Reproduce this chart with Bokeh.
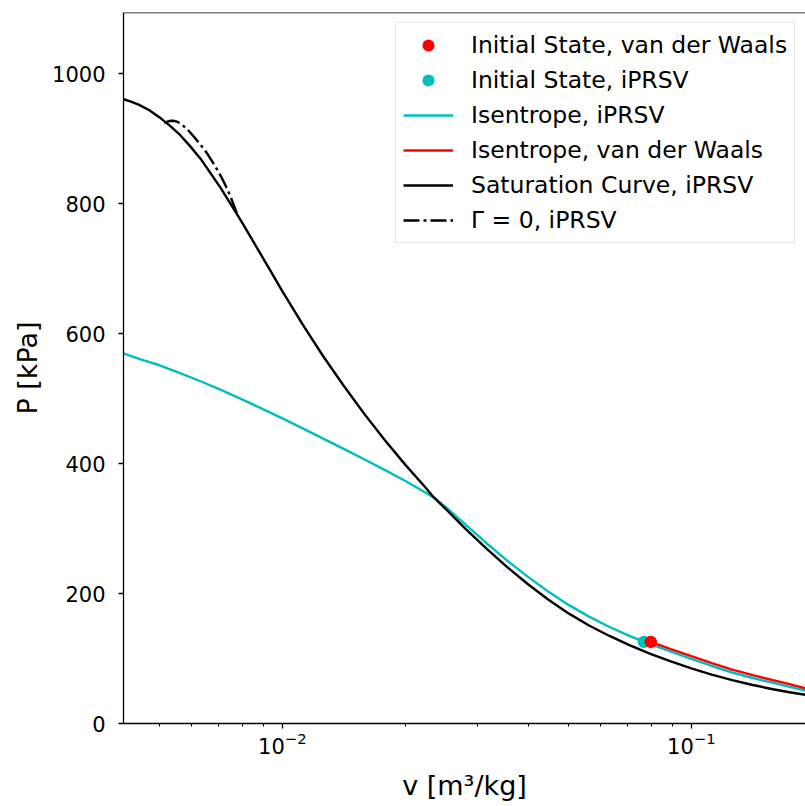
from bokeh.plotting import figure
from bokeh.models import Range1d, FixedTicker, Legend, LegendItem, Span
from bokeh.embed import file_html
from bokeh.resources import INLINE

# ---- data ----
X_MIN, X_MAX = 0.00409, 0.1902
Y_MAX = 1094.0
X_MAJOR = [0.01, 0.1]
X_MINOR = [0.005, 0.006, 0.007, 0.008, 0.009,
           0.02, 0.03, 0.04, 0.05, 0.06, 0.07, 0.08, 0.09]
Y_TICKS = [0, 200, 400, 600, 800, 1000]

# Saturation curve, iPRSV
sat_v = [0.003981, 0.004093, 0.004266, 0.004467, 0.004732, 0.005012, 0.005309,
         0.005623, 0.005957, 0.006310, 0.007079, 0.007943, 0.008913, 0.01,
         0.01122, 0.01259, 0.01413, 0.01585, 0.01778, 0.01995, 0.02239,
         0.0235, 0.02512, 0.02818, 0.03162, 0.03548, 0.03981, 0.04467,
         0.05012, 0.05623, 0.06310, 0.07079, 0.07943, 0.08913, 0.1,
         0.1122, 0.1259, 0.1413, 0.1585, 0.1738, 0.1995]
sat_P = [962.3, 960.5, 957.0, 951.9, 943.5, 932.6, 920.0,
         905.6, 888.0, 869.1, 823.3, 772.5, 719.2, 665.4,
         613.6, 565.1, 519.6, 476.8, 436.5, 398.7, 363.2,
         347.5, 329.7, 298.2, 268.7, 240.7, 214.7, 190.8,
         169.4, 150.8, 134.7, 120.3, 107.2, 95.5, 84.7,
         75.3, 66.7, 59.3, 52.7, 48.0, 41.9]

# Isentrope, iPRSV
isen_ip_v = [0.003981, 0.004467, 0.005012, 0.005623, 0.006310, 0.007079,
             0.007943, 0.008913, 0.01, 0.01122, 0.01259, 0.01413, 0.01585,
             0.01778, 0.01995, 0.02163, 0.0235, 0.02512, 0.02818, 0.03162,
             0.03548, 0.03981, 0.04467, 0.05012, 0.05623, 0.06310, 0.07079,
             0.07943, 0.08913, 0.1, 0.1122, 0.1259, 0.1413, 0.1585, 0.1738,
             0.1905, 0.1995]
isen_ip_P = [572.0, 561.0, 551.2, 539.2, 526.6, 513.2,
             499.1, 484.5, 469.4, 454.0, 438.4, 422.6, 406.6,
             390.2, 373.5, 360.7, 347.5, 333.0, 305.0, 277.0,
             250.5, 226.0, 203.0, 182.5, 164.5, 148.5, 134.5,
             122.0, 110.5, 99.5, 88.5, 78.5, 70.0, 62.5, 56.5,
             50.5, 47.7]

# Isentrope, van der Waals
isen_vdw_v = [0.0796, 0.08913, 0.1, 0.1122, 0.1259, 0.1413, 0.1585, 0.1738,
              0.1905, 0.1995]
isen_vdw_P = [125.5, 114.5, 103.5, 93.0, 83.0, 74.5, 66.5, 60.5,
              54.0, 51.2]

# Gamma = 0 locus, iPRSV
gamma0_v = [0.005146, 0.005284, 0.005405, 0.005527, 0.005653, 0.005869,
            0.006081, 0.006325, 0.006570, 0.006806, 0.007079, 0.007322,
            0.007531, 0.007701, 0.007812]
gamma0_P = [924.3, 927.0, 927.5, 926.0, 922.9, 913.7,
            902.9, 889.7, 875.8, 860.5, 842.0, 823.5,
            805.1, 788.9, 780.5]

init_vdw_v, init_vdw_P = [0.0796], [125.5]
init_ip_v, init_ip_P = [0.07659], [125.5]

labels = ["Initial State, van der Waals", "Initial State, iPRSV",
          "Isentrope, iPRSV", "Isentrope, van der Waals",
          "Saturation Curve, iPRSV", "\u0393 = 0, iPRSV"]

RED = "#ff0000"
CYAN = "#00bfbf"
FONT = "DejaVu Sans"
LW = 2.4

p = figure(width=805, height=806, x_axis_type="log",
           x_range=Range1d(X_MIN, X_MAX), y_range=Range1d(0, Y_MAX),
           output_backend="svg", toolbar_location=None,
           min_border_left=123, min_border_right=0,
           min_border_top=12, min_border_bottom=83)
p.outline_line_color = None
p.xgrid.visible = False
p.ygrid.visible = False
p.background_fill_color = "white"

p.xaxis.ticker = FixedTicker(ticks=X_MAJOR, minor_ticks=X_MINOR)
p.yaxis.ticker = FixedTicker(ticks=Y_TICKS, minor_ticks=[])

for ax in (p.xaxis[0], p.yaxis[0]):
    ax.axis_line_color = "black"
    ax.axis_line_width = 1.3
    ax.major_tick_line_color = "black"
    ax.major_tick_line_width = 1.3
    ax.major_tick_out = 5
    ax.major_tick_in = 0
    ax.minor_tick_line_color = "black"
    ax.minor_tick_line_width = 1.0
    ax.minor_tick_out = 3
    ax.minor_tick_in = 0
    ax.major_label_text_font = FONT
    ax.major_label_text_font_size = "21px"
    ax.major_label_text_color = "black"
    ax.axis_label_text_font = FONT
    ax.axis_label_text_font_size = "27px"
    ax.axis_label_text_font_style = "normal"
    ax.axis_label_text_color = "black"

p.yaxis.major_label_standoff = 13
p.yaxis.axis_label_standoff = 6
p.xaxis.major_label_standoff = 3
p.xaxis.axis_label_standoff = 13
p.xaxis.axis_label = "v [m\u00b3/kg]"
p.yaxis.axis_label = "P [kPa]"

p.add_layout(Span(location=Y_MAX, dimension="width", line_color="black",
                  line_width=1.3))

r_ip = p.line(isen_ip_v, isen_ip_P, line_color=CYAN, line_width=LW)
r_vdw = p.line(isen_vdw_v, isen_vdw_P, line_color=RED, line_width=LW)
r_sat = p.line(sat_v, sat_P, line_color="black", line_width=LW)
r_g0 = p.line(gamma0_v, gamma0_P, line_color="black", line_width=LW,
              line_dash="16 4 3 4")
r_pt_ip = p.scatter(init_ip_v, init_ip_P, size=12.5, fill_color=CYAN,
                    line_color=None)
r_pt_vdw = p.scatter(init_vdw_v, init_vdw_P, size=12.5, fill_color=RED,
                     line_color=None)

legend = Legend(items=[
    LegendItem(label=labels[0], renderers=[r_pt_vdw]),
    LegendItem(label=labels[1], renderers=[r_pt_ip]),
    LegendItem(label=labels[2], renderers=[r_ip]),
    LegendItem(label=labels[3], renderers=[r_vdw]),
    LegendItem(label=labels[4], renderers=[r_sat]),
    LegendItem(label=labels[5], renderers=[r_g0]),
], location=(272, 480))
legend.label_text_font = FONT
legend.label_text_font_size = "23.5px"
legend.label_text_color = "black"
legend.glyph_width = 50
legend.glyph_height = 30
legend.label_height = 30
legend.label_standoff = 18
legend.spacing = 5
legend.padding = 7
legend.margin = 0
legend.border_line_color = "#cccccc"
legend.border_line_width = 1
legend.background_fill_alpha = 0.8
p.add_layout(legend)

open("out.html", "w").write(file_html(p, INLINE))
